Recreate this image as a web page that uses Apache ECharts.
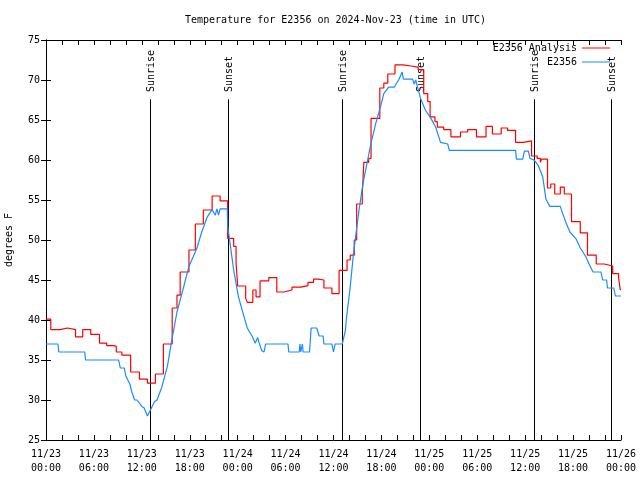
<!DOCTYPE html>
<html>
<head>
<meta charset="utf-8">
<script src="https://cdn.jsdelivr.net/npm/echarts@6/dist/echarts.min.js"></script>
<style>html,body{margin:0;padding:0;background:#fff}#c{width:640px;height:480px}</style>
</head>
<body>
<div id="c"></div>
<script>
// hours since 2024-11-23 00:00 UTC, temperature in degrees F
const analysisData = [
[0,40.1],[0.6,38.8],[1.75,39],[2.7,38.8],[3.7,37.9],[4.6,38.8],[5.6,38.2],[6.7,37.1],[7.6,36.8],[8.5,36.7],
[8.8,36],[9.5,35.6],[10.6,33.5],[11.7,32.6],[12.7,32.1],[13.7,33.25],[14.7,37],[15.8,41.5],[16.4,43.1],[16.8,46],
[17.9,48.75],[18.7,52],[19.7,53.75],[20.8,55.5],[21.8,54.9],[22.75,50.2],[23.5,49.2],[23.8,47.1],[24.0,44.25],[25.0,42.7],
[25.2,42.2],[25.9,43.75],[26.3,42.9],[26.8,44.9],[27.9,45.3],[28.9,43.5],[29.8,43.75],[30.8,44.1],[31.9,44.3],[32.8,44.7],
[33.5,45.1],[34.1,45],[34.8,44],[35.8,43.3],[36.7,46.2],[37.7,47.5],[38.1,48.1],[38.6,50],[38.9,54.5],[39.6,55.75],
[39.8,59.7],[40.4,60.2],[40.7,65.2],[41.8,69],[42.3,69.6],[42.8,70.75],[43.7,71.9],[44.7,71.75],[45.7,71.6],[46.6,71.3],
[47.3,68.3],[47.8,67.3],[48.1,65.4],[48.7,64.8],[49.0,64.1],[49.8,63.8],[50.7,62.9],[51.9,63.5],[52.8,63.8],[53.9,62.9],
[55.1,64.2],[55.9,63.25],[57.0,64],[57.8,63.7],[58.8,62.2],[59.8,62.4],[60.8,60.5],[61.5,60.2],[61.9,59.7],[62.05,60.1],
[62.8,56.5],[63.2,57],[63.7,55.75],[64.4,56.6],[64.9,55.75],[65.8,52.3],[66.9,50.9],[67.8,48.1],[68.9,47],[69.9,46.75],
[70.96,45.8],[71.7,45.3],[71.9,43.8],[72,43.8]
];
const stationData = [
[0,37],[1.5,37],[1.6,36],[4.85,36],[4.95,35],[9.1,35],[9.3,34],[9.8,34],[10.0,33],[10.5,32],
[10.75,31],[11.1,30],[11.4,30],[12.0,29.2],[12.3,29],[12.7,28],[12.9,27.9],[13.2,29],[13.6,29.8],[13.9,30],
[14.5,31.6],[15.2,34.2],[15.7,37.2],[16.4,41],[17.2,44],[17.9,46.7],[18.9,49],[19.5,51],[20.2,52.9],[20.8,53.8],
[21.2,53.1],[21.4,53.9],[21.6,53.1],[21.8,53.9],[22.7,53.9],[22.75,51.7],[23.1,49.2],[23.5,46.25],[24.1,42.9],[24.8,40.4],
[25.2,39],[25.8,38],[26.2,37.1],[26.5,37.8],[26.7,37.1],[27.0,36.2],[27.3,36],[27.5,37],[30.3,37],[30.4,36],
[31.7,36],[31.8,37],[31.9,36],[32.1,37],[32.2,36],[33.0,36],[33.2,39],[33.9,39],[34.2,38],[34.7,38],
[34.8,37],[35.8,37],[36.0,36],[36.2,37],[37.1,37],[37.5,38.75],[37.6,40],[38.1,44.2],[38.5,48.3],[39.2,53.75],
[39.7,57.1],[40.2,59.6],[40.7,62.1],[41.3,64.6],[41.9,66.7],[42.3,68.3],[42.9,69.1],[43.6,69.1],[44.2,70.1],[44.6,71],
[44.75,70.1],[45.9,70.1],[46.1,69.5],[46.3,70],[46.5,69.2],[46.9,67.7],[47.5,66.25],[48.2,65.2],[48.8,64.1],[49.4,62.2],
[50.3,62],[50.5,61.2],[58.8,61.2],[58.9,60.1],[59.7,60.1],[59.9,61.1],[60.4,61.1],[60.6,60.2],[61.1,60],[61.6,59.4],
[62.2,57.9],[62.6,55.1],[63.1,54.2],[64.4,54.2],[64.7,53.3],[65.1,52.2],[65.6,51],[66.4,50.1],[66.9,49],[67.6,47.9],
[68.0,47],[68.5,46],[69.5,46],[69.7,45],[70.2,45],[70.3,44],[71.1,44],[71.3,43],[72,43]
];
const sunHours = [13.08, 22.75, 37.05, 46.83, 61.13, 70.79];
const sunLabels = ['Sunrise', 'Sunset', 'Sunrise', 'Sunset', 'Sunrise', 'Sunset'];
const xTickLabels = ['11/23\n00:00','11/23\n06:00','11/23\n12:00','11/23\n18:00','11/24\n00:00','11/24\n06:00',
  '11/24\n12:00','11/24\n18:00','11/25\n00:00','11/25\n06:00','11/25\n12:00','11/25\n18:00','11/26\n00:00'];
const seriesNames = ['E2356 Analysis', 'E2356'];

const FONT = 'DejaVu Sans Mono';
const chart = echarts.init(document.getElementById('c'), null, {renderer: 'canvas'});
const tickStyle = {show: true, inside: true, length: 5, lineStyle: {color: '#000', width: 1}};
const minorStyle = {show: true, splitNumber: 3, length: 5, lineStyle: {color: '#000', width: 1}};
chart.setOption({
  animation: false,
  backgroundColor: '#fff',
  title: {
    text: 'Temperature for E2356 on 2024-Nov-23 (time in UTC)',
    left: 180, top: 10,
    textStyle: {fontFamily: FONT, fontSize: 10, fontWeight: 'normal', color: '#000'}
  },
  legend: [
    {data: [seriesNames[0]], right: 30, top: 43, orient: 'vertical', align: 'right', icon: 'rect',
     itemWidth: 28, itemHeight: 1, padding: 0,
     textStyle: {fontFamily: FONT, fontSize: 10, color: '#000'}},
    {data: [seriesNames[1]], right: 30, top: 57, orient: 'vertical', align: 'right', icon: 'rect',
     itemWidth: 28, itemHeight: 1, padding: 0,
     textStyle: {fontFamily: FONT, fontSize: 10, color: '#000'}}
  ],
  grid: {left: 46, right: 19, top: 40, bottom: 40, containLabel: false, outerBoundsMode: 'none'},
  xAxis: [
    {type: 'value', min: 0, max: 72, interval: 6, position: 'bottom',
     axisLine: {show: true, lineStyle: {color: '#000', width: 1}},
     axisTick: tickStyle, minorTick: minorStyle, splitLine: {show: false},
     axisLabel: {margin: 7, color: '#000', fontFamily: FONT, fontSize: 10, lineHeight: 14,
       formatter: v => xTickLabels[Math.round(v / 6)]}},
    {type: 'value', min: 0, max: 72, interval: 6, position: 'top',
     axisLine: {show: true, lineStyle: {color: '#000', width: 1}},
     axisTick: tickStyle, minorTick: minorStyle, splitLine: {show: false},
     axisLabel: {show: false}}
  ],
  yAxis: [
    {type: 'value', min: 25, max: 75, interval: 5, position: 'left',
     name: 'degrees F', nameLocation: 'middle', nameGap: 32, nameRotate: 90,
     nameTextStyle: {fontFamily: FONT, fontSize: 10, color: '#000'},
     axisLine: {show: true, lineStyle: {color: '#000', width: 1}},
     axisTick: tickStyle, splitLine: {show: false},
     axisLabel: {margin: 6, color: '#000', fontFamily: FONT, fontSize: 10}},
    {type: 'value', min: 25, max: 75, interval: 5, position: 'right',
     axisLine: {show: true, lineStyle: {color: '#000', width: 1}},
     axisTick: tickStyle, splitLine: {show: false}, axisLabel: {show: false}}
  ],
  series: [
    {type: 'custom', name: 'sun', xAxisIndex: 0, yAxisIndex: 0, silent: true,
     data: sunHours.map(h => [h, 25]),
     encode: {x: 0, y: 1},
     renderItem: function (params, api) {
       const h = api.value(0);
       const pb = api.coord([h, 25]);
       const pt = api.coord([h, 67.6]);
       const pl = api.coord([h, 68.5]);
       const x = Math.round(pb[0]) + 0.5;
       return {type: 'group', children: [
         {type: 'line', shape: {x1: x, y1: pb[1], x2: x, y2: pt[1]},
          style: {stroke: '#000', lineWidth: 1}},
         {type: 'text', x: x + 1, y: pl[1], rotation: Math.PI / 2,
          style: {text: sunLabels[params.dataIndex], fill: '#000', font: '10px "' + FONT + '"',
                  align: 'left', verticalAlign: 'middle'}}
       ]};
     }},
    {type: 'line', name: seriesNames[0], data: analysisData, step: 'end', showSymbol: false,
     symbol: 'none', color: '#ff0000', lineStyle: {color: '#ff0000', width: 1.2}},
    {type: 'line', name: seriesNames[1], data: stationData, showSymbol: false,
     symbol: 'none', color: '#1a8cff', lineStyle: {color: '#1a8cff', width: 1.2}}
  ]
});
</script>
</body>
</html>
